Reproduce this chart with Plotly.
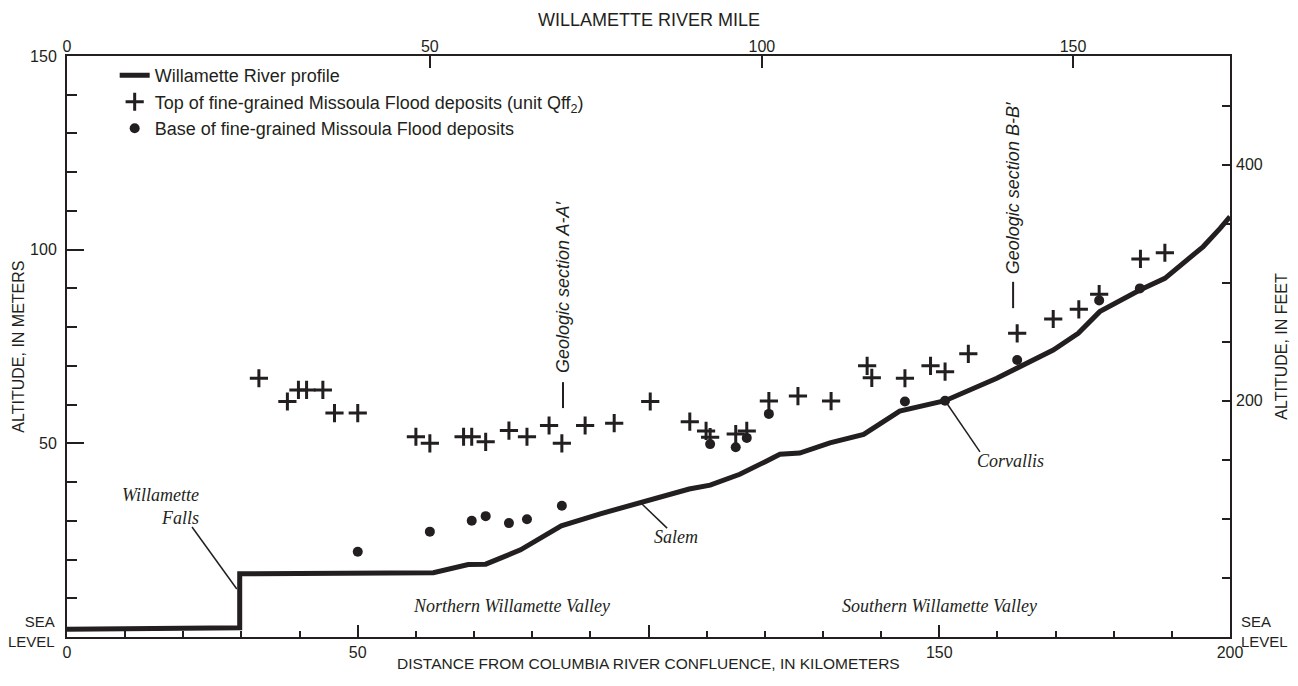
import plotly.graph_objects as go

# ---------------- data ----------------
river_km = [0, 10, 20, 29.7, 29.7, 40, 50, 60, 63, 69, 72, 78, 85, 91.7, 100, 107, 110.6,
            115.7, 120, 122.6, 126, 131.2, 137, 143.2, 151, 159.9, 169.6, 173.9, 177.6,
            184.5, 188.8, 195.4, 198.3, 200]
river_m = [2.0, 2.1, 2.4, 2.4, 16.3, 16.3, 16.3, 16.3, 16.6, 18.7, 18.8, 22.5, 28.7, 31.8,
           35.2, 38.2, 39.2, 42.0, 45.2, 47.2, 47.5, 50.1, 52.3, 58.3, 61.0, 66.8, 74.1,
           78.4, 84.0, 89.6, 92.6, 100.8, 105.5, 108.5]

top_km = [33.0, 37.9, 39.8, 41.2, 44.0, 46.0, 50.0, 60.0, 62.4, 68.2, 69.6, 72.0, 76.0,
          79.1, 82.9, 85.1, 89.1, 94.1, 100.3, 107.1, 109.9, 110.6, 115.0, 116.9, 120.7,
          125.7, 131.4, 137.6, 138.4, 144.1, 148.5, 151.0, 155.0, 163.4, 169.6, 174.0,
          177.5, 184.6, 188.8]
top_m = [66.8, 60.8, 63.8, 63.8, 63.8, 57.8, 57.8, 51.7, 50.0, 51.7, 51.7, 50.4, 53.3,
         51.7, 54.6, 50.0, 54.6, 55.2, 60.8, 55.6, 53.2, 51.6, 52.4, 53.2, 60.9,
         62.2, 60.9, 70.0, 66.9, 66.8, 70.0, 68.5, 73.1, 78.4, 82.1, 84.6,
         88.5, 97.6, 99.2]

base_km = [50.0, 62.4, 69.6, 72.0, 76.0, 79.1, 85.1, 110.6, 115.0, 116.9, 120.7, 144.1,
           151.0, 163.4, 177.5, 184.5]
base_m = [22.0, 27.2, 30.0, 31.2, 29.4, 30.4, 33.9, 49.8, 49.0, 51.4, 57.6, 60.8,
          61.0, 71.5, 86.9, 90.0]

# bottom axis (kilometers)
km_ticks = [0, 50, 100, 150, 200]
km_labels = ["0", "50", "", "150", "200"]
# left axis (meters)
m_ticks = [0, 50, 100, 150]
m_labels = ["", "50", "100", "150"]
# river-mile ticks (top axis) and their position in kilometers
mile_labels = ["0", "50", "100", "150"]
mile_km = [0, 62.4, 119.5, 173.0]
# right axis (feet)
M_TO_FT = 3.28084
feet_ticks = [50, 100, 150, 200, 250, 300, 350, 400, 450]
feet_labels = ["", "", "", "200", "", "", "", "400", ""]

INK = "#231f20"
SANS = "Arial, Liberation Sans, Helvetica, sans-serif"
SERIF = "Times New Roman, Liberation Serif, serif"

fig = go.Figure()
fig.add_trace(go.Scatter(x=river_km, y=river_m, mode="lines",
                         line=dict(color=INK, width=5),
                         name="Willamette River profile"))
fig.add_trace(go.Scatter(x=top_km, y=top_m, mode="markers",
                         marker=dict(symbol="cross-thin", size=13,
                                     line=dict(width=3, color=INK), color=INK),
                         name="Top of fine-grained Missoula Flood deposits (unit Qff<sub>2</sub>)"))
fig.add_trace(go.Scatter(x=base_km, y=base_m, mode="markers",
                         marker=dict(symbol="circle", size=10, color=INK),
                         name="Base of fine-grained Missoula Flood deposits"))
# invisible trace to anchor the secondary axes
fig.add_trace(go.Scatter(x=[None], y=[None], xaxis="x2", yaxis="y2",
                         showlegend=False, hoverinfo="skip"))

axis_common = dict(showgrid=False, zeroline=False, ticks="inside", tickwidth=2,
                   tickcolor=INK, automargin=False,
                   tickfont=dict(family=SANS, size=16, color=INK))

fig.update_layout(
    width=1298, height=686,
    margin=dict(l=59, r=76, t=48, b=57),
    paper_bgcolor="white", plot_bgcolor="white",
    showlegend=True,
    legend=dict(x=0.041, y=0.998, xanchor="left", yanchor="top",
                font=dict(family=SANS, size=18, color=INK),
                bgcolor="rgba(0,0,0,0)"),
    xaxis=dict(range=[0, 200], tickvals=km_ticks, ticktext=km_labels, ticklen=12,
               showline=True, linewidth=2, linecolor=INK, mirror=True,
               minor=dict(dtick=10, tick0=0, ticks="inside", ticklen=6, tickwidth=2,
                          tickcolor=INK),
               **axis_common),
    yaxis=dict(range=[0, 150], tickvals=m_ticks, ticktext=m_labels,
               ticklen=17, showline=True, linewidth=2, linecolor=INK, mirror=True,
               ticklabelstandoff=5,
               minor=dict(dtick=10, tick0=0, ticks="inside", ticklen=10, tickwidth=2,
                          tickcolor=INK),
               **axis_common),
    xaxis2=dict(overlaying="x", side="top", range=[0, 200], tickvals=mile_km,
                ticktext=mile_labels, ticklen=12, showline=False, **axis_common),
    yaxis2=dict(overlaying="y", side="right", range=[0, 150 * M_TO_FT],
                tickvals=feet_ticks, ticktext=feet_labels, ticklen=8, showline=False,
                ticklabelstandoff=5, **axis_common),
)

ann = []
title_font = dict(family=SANS, size=16, color=INK)
# axis titles
ann.append(dict(text="ALTITUDE, IN METERS", xref="paper", yref="paper", x=-0.042, y=0.5,
                xanchor="center", yanchor="middle",
                textangle=-90, showarrow=False, font=title_font))
ann.append(dict(text="ALTITUDE, IN FEET", xref="paper", yref="paper", x=1.044, y=0.5,
                xanchor="center", yanchor="middle",
                textangle=-90, showarrow=False, font=title_font))
ann.append(dict(text="DISTANCE FROM COLUMBIA RIVER CONFLUENCE, IN KILOMETERS", xref="paper",
                yref="paper", x=0.5, y=-0.045, xanchor="center", yanchor="middle",
                showarrow=False, font=dict(family=SANS, size=15.5, color=INK)))
ann.append(dict(text="WILLAMETTE RIVER MILE", xref="paper", yref="paper", x=0.5, y=1.062,
                xanchor="center", yanchor="middle",
                showarrow=False, font=dict(family=SANS, size=18, color=INK)))
# sea level labels
ann.append(dict(text="SEA<br>LEVEL", xref="paper", yref="paper", x=-0.009, y=0.01,
                xanchor="right", yanchor="middle", align="right", showarrow=False,
                font=dict(family=SANS, size=15, color=INK)))
ann.append(dict(text="SEA<br>LEVEL", xref="paper", yref="paper", x=1.008, y=0.01,
                xanchor="left", yanchor="middle", align="left", showarrow=False,
                font=dict(family=SANS, size=15, color=INK)))
# in-plot labels
serif_font = dict(family=SERIF, size=18, color=INK, style="italic")
ann.append(dict(text="Willamette<br>Falls", x=23.0, y=33.8, xanchor="right", align="right",
                yanchor="middle", showarrow=False, font=serif_font))
ann.append(dict(text="Salem", x=104.7, y=25.8, showarrow=False, font=serif_font))
ann.append(dict(text="Corvallis", x=162.3, y=45.4, showarrow=False, font=serif_font))
ann.append(dict(text="Northern Willamette Valley", x=76.4, y=8.0, showarrow=False, font=serif_font))
ann.append(dict(text="Southern Willamette Valley", x=150.1, y=8.0, showarrow=False, font=serif_font))
sec_font = dict(family=SANS, size=18, color=INK, style="italic")
ann.append(dict(text="Geologic section A-A′", x=85.3, y=90.1, textangle=-90,
                xanchor="center", yanchor="middle", showarrow=False, font=sec_font))
ann.append(dict(text="Geologic section B-B′", x=162.7, y=115.9, textangle=-90,
                xanchor="center", yanchor="middle", showarrow=False, font=sec_font))
fig.update_layout(annotations=ann)

lw = dict(color=INK, width=1.5)
shapes = [
    dict(type="line", x0=21.5, y0=28.4, x1=29.2, y1=12.4, line=lw),
    dict(type="line", x0=98.7, y0=34.6, x1=103.2, y1=28.1, line=lw),
    dict(type="line", x0=151.0, y0=61.0, x1=157.0, y1=47.8, line=lw),
    dict(type="line", x0=85.3, y0=65.8, x1=85.3, y1=59.1, line=dict(color=INK, width=2)),
    dict(type="line", x0=162.7, y0=91.7, x1=162.7, y1=84.9, line=dict(color=INK, width=2)),
]
fig.update_layout(shapes=shapes)

fig.write_html("out.html")
